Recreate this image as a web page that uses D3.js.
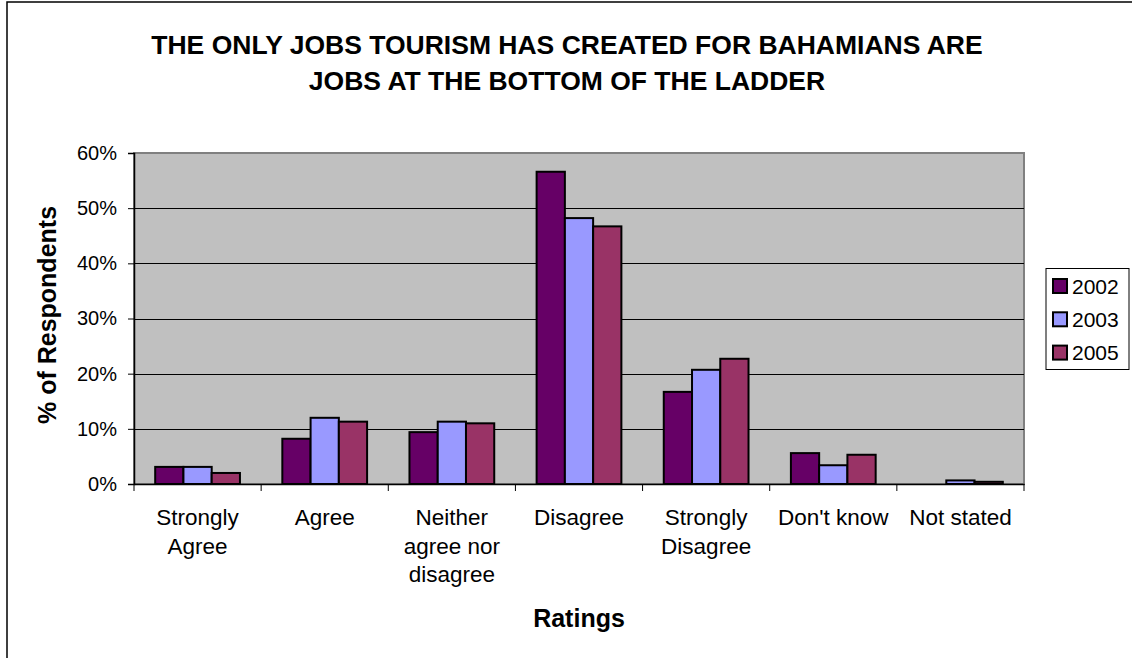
<!DOCTYPE html>
<html>
<head>
<meta charset="utf-8">
<script src="https://cdn.jsdelivr.net/npm/d3@7"></script>
<style>
  body { margin: 0; background: #fff; }
  svg { display: block; font-family: Arial, "Liberation Sans", sans-serif; }
  .axis path, .axis line { stroke: #000; }
  .axis text { font-size: 20px; fill: #000; }
</style>
</head>
<body>
<script>
// rating categories (label lines), years, and % values per year
var categories = ["Strongly Agree", "Agree", "Neither agree nor disagree", "Disagree", "Strongly Disagree", "Don't know", "Not stated"];
var catLines = [["Strongly", "Agree"], ["Agree"], ["Neither", "agree nor", "disagree"], ["Disagree"], ["Strongly", "Disagree"], ["Don't know"], ["Not stated"]];
var years = ["2002", "2003", "2005"];
var v2002 = [0.031, 0.082, 0.094, 0.566, 0.167, 0.056, 0.0];
var v2003 = [0.031, 0.120, 0.113, 0.482, 0.207, 0.034, 0.0065];
var v2005 = [0.020, 0.113, 0.110, 0.467, 0.227, 0.053, 0.004];
var yTicks = [0, 0.1, 0.2, 0.3, 0.4, 0.5, 0.6];
var colors = ["#660066", "#9999FF", "#993366"];

var width = 1132, height = 658;
var plot = {left: 134, right: 1024, top: 153, bottom: 484};

var series = [v2002, v2003, v2005];

var svg = d3.select("body").append("svg")
    .attr("width", width)
    .attr("height", height);

// outer chart frame
svg.append("rect")
    .attr("x", 7).attr("y", 2)
    .attr("width", width + 10).attr("height", height + 10)
    .attr("fill", "#fff")
    .attr("stroke", "#000")
    .attr("stroke-width", 1.5);

var x0 = d3.scaleBand()
    .domain(categories)
    .range([plot.left, plot.right])
    .paddingInner(1/3)
    .paddingOuter(1/6);

var x1 = d3.scaleBand()
    .domain(years)
    .range([0, x0.bandwidth()]);

var y = d3.scaleLinear()
    .domain([0, 0.6])
    .range([plot.bottom, plot.top]);

// plot background
svg.append("rect")
    .attr("x", plot.left).attr("y", plot.top)
    .attr("width", plot.right - plot.left)
    .attr("height", plot.bottom - plot.top)
    .attr("fill", "#C0C0C0")
    .attr("stroke", "#808080")
    .attr("stroke-width", 2);

// gridlines
svg.append("g")
    .selectAll("line")
    .data(yTicks.filter(function(t){ return t > 0 && t < 0.6; }))
    .enter().append("line")
    .attr("x1", plot.left).attr("x2", plot.right)
    .attr("y1", function(d){ return Math.round(y(d)) + 0.5; })
    .attr("y2", function(d){ return Math.round(y(d)) + 0.5; })
    .attr("stroke", "#000")
    .attr("stroke-width", 1);

// bars
var groups = svg.append("g").selectAll("g")
    .data(categories)
    .enter().append("g")
    .attr("transform", function(d){ return "translate(" + x0(d) + ",0)"; });

groups.selectAll("rect")
    .data(function(d, i){ return years.map(function(yr, j){ return {year: yr, value: series[j][i], c: colors[j]}; }); })
    .enter().append("rect")
    .filter(function(d){ return d.value > 0; })
    .attr("x", function(d){ return x1(d.year); })
    .attr("y", function(d){ return y(d.value); })
    .attr("width", x1.bandwidth())
    .attr("height", function(d){ return y(0) - y(d.value); })
    .attr("fill", function(d){ return d.c; })
    .attr("stroke", "#000")
    .attr("stroke-width", 2);

// y axis
var yAxis = svg.append("g")
    .attr("class", "axis")
    .attr("transform", "translate(" + plot.left + ",0)")
    .call(d3.axisLeft(y).tickValues(yTicks).tickFormat(d3.format(".0%")).tickSize(6).tickPadding(11));
yAxis.select(".domain").attr("stroke", "#404040").attr("stroke-width", 1.5);

// x axis
var xAxis = svg.append("g")
    .attr("class", "axis")
    .attr("transform", "translate(0," + plot.bottom + ")")
    .call(d3.axisBottom(x0).tickSize(0).tickFormat(""));
xAxis.select(".domain").attr("stroke", "#000").attr("stroke-width", 1.5);

// category boundary ticks
svg.append("g").selectAll("line")
    .data(d3.range(categories.length + 1))
    .enter().append("line")
    .attr("x1", function(i){ return plot.left + i * x0.step(); })
    .attr("x2", function(i){ return plot.left + i * x0.step(); })
    .attr("y1", plot.bottom)
    .attr("y2", plot.bottom + 7)
    .attr("stroke", "#000");

// category labels
var labels = svg.append("g").selectAll("text")
    .data(categories)
    .enter().append("text")
    .attr("x", function(d){ return x0(d) + x0.bandwidth() / 2; })
    .attr("y", 525)
    .attr("text-anchor", "middle")
    .style("font-size", "22.5px");

labels.selectAll("tspan")
    .data(function(d, i){ return catLines[i]; })
    .enter().append("tspan")
    .attr("x", function(){ var p = this.parentNode; return p.getAttribute("x"); })
    .attr("dy", function(d, i){ return i === 0 ? 0 : 28.7; })
    .text(function(d){ return d; });

// titles
var title = svg.append("text")
    .attr("text-anchor", "middle")
    .style("font-size", "26.5px")
    .style("font-weight", "bold");
title.append("tspan").attr("x", 567).attr("y", 54).text("THE ONLY JOBS TOURISM HAS CREATED FOR BAHAMIANS ARE");
title.append("tspan").attr("x", 567).attr("y", 90).text("JOBS AT THE BOTTOM OF THE LADDER");

svg.append("text")
    .attr("x", 579).attr("y", 627)
    .attr("text-anchor", "middle")
    .style("font-size", "25px")
    .style("font-weight", "bold")
    .text("Ratings");

svg.append("text")
    .attr("transform", "translate(56,315) rotate(-90)")
    .attr("text-anchor", "middle")
    .style("font-size", "25px")
    .style("font-weight", "bold")
    .text("% of Respondents");

// legend
var legend = svg.append("g");
legend.append("rect")
    .attr("x", 1046).attr("y", 268.5)
    .attr("width", 83).attr("height", 101)
    .attr("fill", "#fff")
    .attr("stroke", "#000")
    .attr("stroke-width", 1);

var items = legend.selectAll("g.item")
    .data(years)
    .enter().append("g")
    .attr("class", "item")
    .attr("transform", function(d, i){ return "translate(1053," + (286 + i * 33.3) + ")"; });

items.append("rect")
    .attr("x", 0).attr("y", -7)
    .attr("width", 14).attr("height", 14)
    .attr("fill", function(d, i){ return colors[i]; })
    .attr("stroke", "#000")
    .attr("stroke-width", 2);

items.append("text")
    .attr("x", 19).attr("y", 7.5)
    .style("font-size", "21px")
    .text(function(d){ return d; });
</script>
</body>
</html>
